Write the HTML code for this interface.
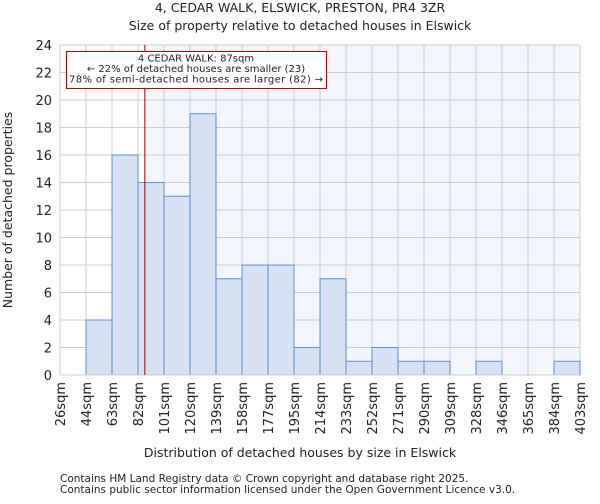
<!DOCTYPE html>
<html><head><meta charset="utf-8"><style>
body{margin:0;background:#fff;font-family:"DejaVu Sans","Liberation Sans",sans-serif;}
svg text{font-family:"DejaVu Sans","Liberation Sans",sans-serif;fill:#222;}
</style></head><body>
<svg id="chart" width="600" height="500" xmlns="http://www.w3.org/2000/svg">
<text x="300" y="12" text-anchor="middle" font-size="12.5">4, CEDAR WALK, ELSWICK, PRESTON, PR4 3ZR</text>
<text x="300" y="30" text-anchor="middle" font-size="12.5">Size of property relative to detached houses in Elswick</text>
<g id="plot"></g>
<text x="300" y="457" text-anchor="middle" font-size="12.5">Distribution of detached houses by size in Elswick</text>
<text transform="translate(12,210) rotate(-90)" text-anchor="middle" font-size="12.5">Number of detached properties</text>
<text x="60" y="482" font-size="10.5" fill="#555">Contains HM Land Registry data © Crown copyright and database right 2025.</text>
<text x="60" y="493" font-size="10.5" fill="#555">Contains public sector information licensed under the Open Government Licence v3.0.</text>
</svg>
<script>
const binLabels=["26sqm","44sqm","63sqm","82sqm","101sqm","120sqm","139sqm","158sqm","177sqm","195sqm","214sqm","233sqm","252sqm","271sqm","290sqm","309sqm","328sqm","346sqm","365sqm","384sqm","403sqm"];
const binEdges=[26,44,63,82,101,120,139,158,177,195,214,233,252,271,290,309,328,346,365,384,403];
const counts=[0,4,16,14,13,19,7,8,8,2,7,1,2,1,1,0,1,0,0,1];
const yTicks=[0,2,4,6,8,10,12,14,16,18,20,22,24];
const propertySize=87;
const NS="http://www.w3.org/2000/svg";
const L=60,R=580,T=45,B=375,YMAX=24;
const n=counts.length,bw=(R-L)/n;
const xIdx=i=>L+i*bw;
const xVal=v=>{let i=0;while(i<n-1&&v>binEdges[i+1])i++;return xIdx(i)+(v-binEdges[i])/(binEdges[i+1]-binEdges[i])*bw;};
const y=v=>B-v/YMAX*(B-T);
const g=document.getElementById('plot');
function mk(t,a){const e=document.createElementNS(NS,t);for(const k in a)e.setAttribute(k,a[k]);g.appendChild(e);return e;}
const px=xVal(propertySize);
let e=mk('rect',{x:px,y:T,width:R-px,height:B-T,fill:'#f4f6fd'});


for(let i=0;i<=n;i++){e=mk('line',{x1:xIdx(i),x2:xIdx(i),y1:T,y2:B,stroke:'#ccc','stroke-width':1});

}
yTicks.forEach(t=>{e=mk('line',{x1:L,x2:R,y1:y(t),y2:y(t),stroke:'#ccc','stroke-width':1});


e=mk('text',{x:L-8,y:y(t)+5,'text-anchor':'end','font-size':13});e.textContent=t;

});
counts.forEach((c,i)=>{if(!c)return;e=mk('rect',{x:xIdx(i),y:y(c),width:bw,height:B-y(c),fill:'#d6e1f3',stroke:'#5b8fd6','stroke-width':1});

});
binLabels.forEach((lb,i)=>{e=mk('text',{transform:`translate(${xIdx(i)+5},382) rotate(-90)`,'text-anchor':'end','font-size':13});e.textContent=lb;

});
e=mk('line',{x1:L,x2:R,y1:B,y2:B,stroke:'#ccc'});


e=mk('line',{x1:px,x2:px,y1:T,y2:B,stroke:'#a00000','stroke-width':1});


e=mk('rect',{x:66.5,y:51.5,width:260,height:37,fill:'#fff',stroke:'#c00000','stroke-width':1});


["4 CEDAR WALK: 87sqm","← 22% of detached houses are smaller (23)","78% of semi-detached houses are larger (82) →"].forEach((s,k)=>{e=mk('text',{x:196,y:61.5+k*10.5,'text-anchor':'middle','font-size':10,textLength:k==2?254:null});if(k!=2)e.removeAttribute('textLength');e.textContent=s;

});
</script>
</body></html>
